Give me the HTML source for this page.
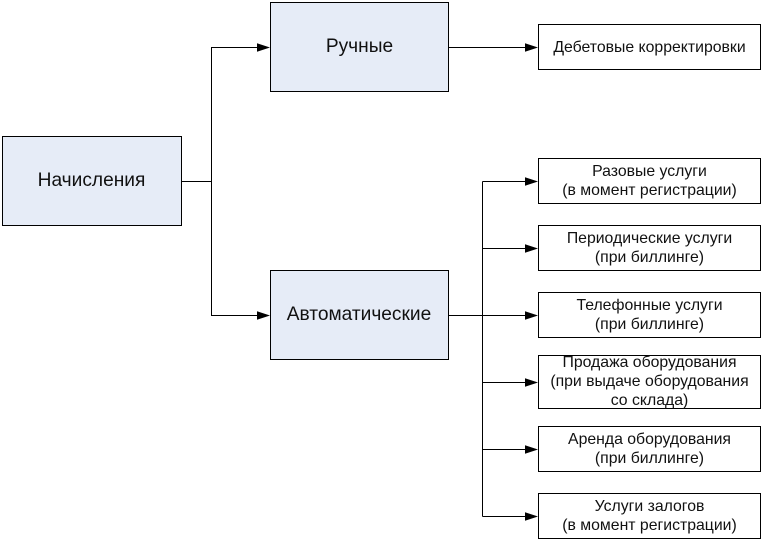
<!DOCTYPE html>
<html>
<head>
<meta charset="utf-8">
<style>
html,body{margin:0;padding:0;background:#fff;width:763px;height:540px;overflow:hidden}
svg{display:block}
text{font-family:"Liberation Sans",sans-serif;fill:#111;text-anchor:middle}
.b{font-size:19.15px}
.s{font-size:15.8px}
</style>
</head>
<body>
<svg width="763" height="540" viewBox="0 0 763 540" xmlns="http://www.w3.org/2000/svg">
<g fill="#e6ecf7" stroke="#000" stroke-width="1">
<rect x="2.5" y="136.5" width="179" height="89"/>
<rect x="270.5" y="2.5" width="178" height="89"/>
<rect x="270.5" y="270.5" width="178" height="89"/>
</g>
<g fill="#fff" stroke="#000" stroke-width="1">
<rect x="538.5" y="24.5" width="222" height="45"/>
<rect x="538.5" y="158.5" width="222" height="45"/>
<rect x="538.5" y="225.5" width="222" height="45"/>
<rect x="538.5" y="292.5" width="222" height="45"/>
<rect x="538.5" y="355.5" width="222" height="53"/>
<rect x="538.5" y="426.5" width="222" height="45"/>
<rect x="538.5" y="493.5" width="222" height="45"/>
</g>
<g fill="none" stroke="#000" stroke-width="1">
<path d="M181 181.500H211.500V47.500H258"/>
<path d="M211.500 181V315.500H258"/>
<path d="M449 47.500H527"/>
<path d="M449 315.500H527"/>
<path d="M482.500 181.500V516.500"/>
<path d="M482.500 181.500H527"/>
<path d="M482.500 248.500H527"/>
<path d="M482.500 382.500H527"/>
<path d="M482.500 449.500H527"/>
<path d="M482.500 516.500H527"/>
</g>
<g fill="#000">
<polygon points="257,43.200 270,47.500 257,51.800"/>
<polygon points="257,311.200 270,315.500 257,319.800"/>
<polygon points="525,43.200 538,47.500 525,51.800"/>
<polygon points="525,177.200 538,181.500 525,185.800"/>
<polygon points="525,244.200 538,248.500 525,252.800"/>
<polygon points="525,311.200 538,315.500 525,319.800"/>
<polygon points="525,378.200 538,382.500 525,386.800"/>
<polygon points="525,445.200 538,449.500 525,453.800"/>
<polygon points="525,512.200 538,516.500 525,520.800"/>
</g>
<text class="b" x="91.500" y="186">Начисления</text>
<text class="b" x="359.500" y="52">Ручные</text>
<text class="b" x="359" y="320">Автоматические</text>
<text class="s" x="649.500" y="52">Дебетовые корректировки</text>
<text class="s" x="649.500" y="176">Разовые услуги</text>
<text class="s" x="649.500" y="195">(в момент регистрации)</text>
<text class="s" x="649.500" y="243">Периодические услуги</text>
<text class="s" x="649.500" y="262">(при биллинге)</text>
<text class="s" x="649.500" y="310">Телефонные услуги</text>
<text class="s" x="649.500" y="329">(при биллинге)</text>
<text class="s" x="649.500" y="367">Продажа оборудования</text>
<text class="s" x="649.500" y="386">(при выдаче оборудования</text>
<text class="s" x="649.500" y="405">со склада)</text>
<text class="s" x="649.500" y="444">Аренда оборудования</text>
<text class="s" x="649.500" y="463">(при биллинге)</text>
<text class="s" x="649.500" y="511">Услуги залогов</text>
<text class="s" x="649.500" y="530">(в момент регистрации)</text>
</svg>
</body>
</html>
